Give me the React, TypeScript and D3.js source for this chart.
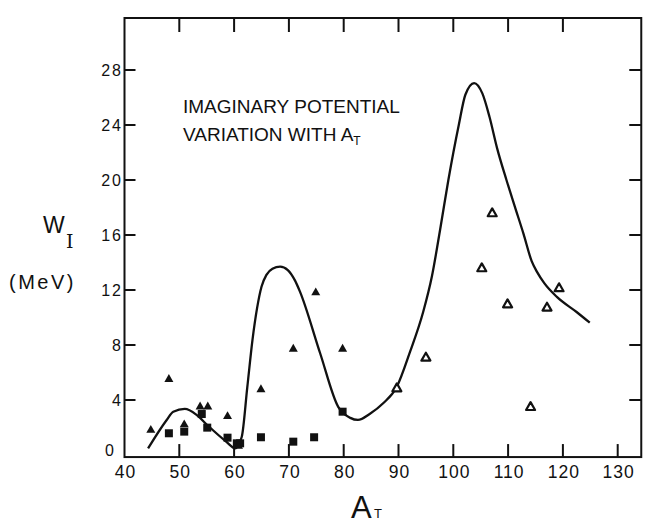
import React from "react";
import * as d3 from "d3";

const width = 646;
const height = 525;

// axis ticks
const xTicks = [40, 50, 60, 70, 80, 90, 100, 110, 120, 130];
const topTicks = [50, 60, 70, 80, 90, 100, 110, 120];
const yTicks = [0, 4, 8, 12, 16, 20, 24, 28];
const rightTicks = [4, 8, 12, 16, 20, 24, 28];

// calculated W_I curve
const curveA = [44.3, 47.7, 48.9, 51.0, 53.2, 55.1, 58.6, 60.2, 61.4, 62.4, 63.35, 64.2, 65.0, 65.9, 67.0, 68.4, 69.8, 71.1, 72.0, 75.7, 79.0, 81.2, 82.6, 84.8, 87.2, 89.7, 92.1, 94.5, 96.1, 97.6, 99.1, 101.0, 102.2, 103.8, 105.3, 106.6, 108.0, 109.7, 111.2, 112.8, 114.3, 115.3, 116.6, 118.9, 122.5, 124.9];
const curveW = [0.48, 2.55, 3.15, 3.35, 2.9, 2.18, 0.96, 0.49, 1.33, 4.9, 8.36, 10.7, 12.24, 13.1, 13.55, 13.7, 13.45, 12.7, 11.9, 7.4, 3.5, 2.7, 2.55, 3.0, 3.76, 4.97, 7.5, 10.4, 13.0, 16.4, 20.0, 24.0, 26.2, 27.05, 26.3, 24.6, 22.3, 20.0, 18.1, 16.1, 14.1, 13.3, 12.5, 11.5, 10.4, 9.62];

// filled triangles
const triA = [44.8, 48.1, 50.9, 53.8, 55.2, 58.8, 60.8, 64.9, 70.8, 74.9, 79.8];
const triW = [1.9, 5.6, 2.3, 3.6, 3.6, 2.9, 0.75, 4.85, 7.8, 11.9, 7.8];

// filled squares
const sqA = [48.1, 50.9, 54.1, 55.1, 58.8, 60.5, 61.1, 64.9, 70.8, 74.6, 79.8];
const sqW = [1.58, 1.7, 2.98, 1.99, 1.26, 0.85, 0.85, 1.29, 0.97, 1.29, 3.15];

// open triangles
const openA = [89.7, 95.0, 105.2, 107.1, 109.9, 114.1, 117.1, 119.3];
const openW = [4.92, 7.15, 13.65, 17.65, 11.03, 3.56, 10.79, 12.2];

const ink = "#111";
const font = "'Liberation Sans', Arial, sans-serif";

const x = d3.scaleLinear().domain([40, 130]).range([124.5, 617.7]);
const y = d3.scaleLinear().domain([0, 28]).range([455, 70]);

const left = x(40);
const right = x(134.3);
const top = 18;
const bottom = y(-0.15);

function triPath(cx: number, cy: number, s: number) {
  const h = s * 0.88;
  return `M${cx},${cy - h / 2}L${cx + s / 2},${cy + h / 2}L${cx - s / 2},${cy + h / 2}Z`;
}

const App = () => {
  const curve = d3
    .line<number>()
    .x((_, i) => x(curveA[i]))
    .y((d) => y(d))
    .curve(d3.curveMonotoneX);

  return (
    <svg
      width={width}
      height={height}
      style={{ position: "absolute", left: 0, top: 0, background: "#fff" }}
    >
      <rect width={width} height={height} fill="#fff" />
      {/* frame */}
      <rect
        x={left}
        y={top}
        width={right - left}
        height={bottom - top}
        fill="none"
        stroke={ink}
        strokeWidth={2}
      />
      {xTicks.slice(1).map((t) => (
        <line key={"b" + t} x1={x(t)} x2={x(t)} y1={bottom} y2={bottom - 13} stroke={ink} strokeWidth={2} />
      ))}
      {topTicks.map((t) => (
        <line key={"t" + t} x1={x(t)} x2={x(t)} y1={top} y2={top + 14} stroke={ink} strokeWidth={2} />
      ))}
      {yTicks.slice(1).map((t) => (
        <line key={"l" + t} x1={left} x2={left + 11} y1={y(t)} y2={y(t)} stroke={ink} strokeWidth={2} />
      ))}
      {rightTicks.map((t) => (
        <line key={"r" + t} x1={right} x2={right - 12} y1={y(t)} y2={y(t)} stroke={ink} strokeWidth={2} />
      ))}

      {/* tick labels */}
      {xTicks.map((t) => (
        <text
          key={"xl" + t}
          x={x(t) + 1}
          y={478}
          textAnchor="middle"
          fontFamily={font}
          fontSize={17.5}
          letterSpacing={1}
          fill={ink}
        >
          {t}
        </text>
      ))}
      {yTicks.map((t) => (
        <text
          key={"yl" + t}
          x={t === 0 ? 116 : 123}
          y={t === 0 ? y(t) - 5 : y(t)}
          dy="0.36em"
          textAnchor="end"
          fontFamily={font}
          fontSize={16}
          letterSpacing={2}
          fill={ink}
        >
          {t}
        </text>
      ))}

      {/* axis titles */}
      <text x={351} y={518} fontFamily={font} fontSize={31} fill={ink}>
        A
      </text>
      <text x={374} y={518} fontFamily={font} fontSize={13} fill={ink}>
        T
      </text>
      <text x={43} y={233} fontFamily={font} fontSize={23} fill={ink}>
        W
      </text>
      <text x={66} y={248} fontFamily="'DejaVu Serif', serif" fontSize={19} fill={ink}>
        I
      </text>
      <text x={9} y={289} fontFamily={font} fontSize={20} letterSpacing={2.5} fill={ink}>
        (MeV)
      </text>

      {/* annotation */}
      <text x={183} y={113} fontFamily={font} fontSize={19} fill={ink}>
        IMAGINARY POTENTIAL
      </text>
      <text x={183} y={141} fontFamily={font} fontSize={19} fill={ink}>
        VARIATION WITH A
        <tspan fontSize={12} dy={4}>
          T
        </tspan>
      </text>

      {/* curve */}
      <path d={curve(curveW) || ""} fill="none" stroke={ink} strokeWidth={2.3} />

      {/* points */}
      {sqA.map((a, i) => (
        <rect
          key={"s" + i}
          x={x(a) - 4}
          y={y(sqW[i]) - 4}
          width={8}
          height={8}
          fill={ink}
        />
      ))}
      {triA.map((a, i) => (
        <path key={"f" + i} d={triPath(x(a), y(triW[i]), 9)} fill={ink} />
      ))}
      {openA.map((a, i) => (
        <path
          key={"o" + i}
          d={triPath(x(a), y(openW[i]), 9)}
          fill="#fff"
          stroke={ink}
          strokeWidth={2.2}
          strokeLinejoin="round"
        />
      ))}
    </svg>
  );
};

export default App;
